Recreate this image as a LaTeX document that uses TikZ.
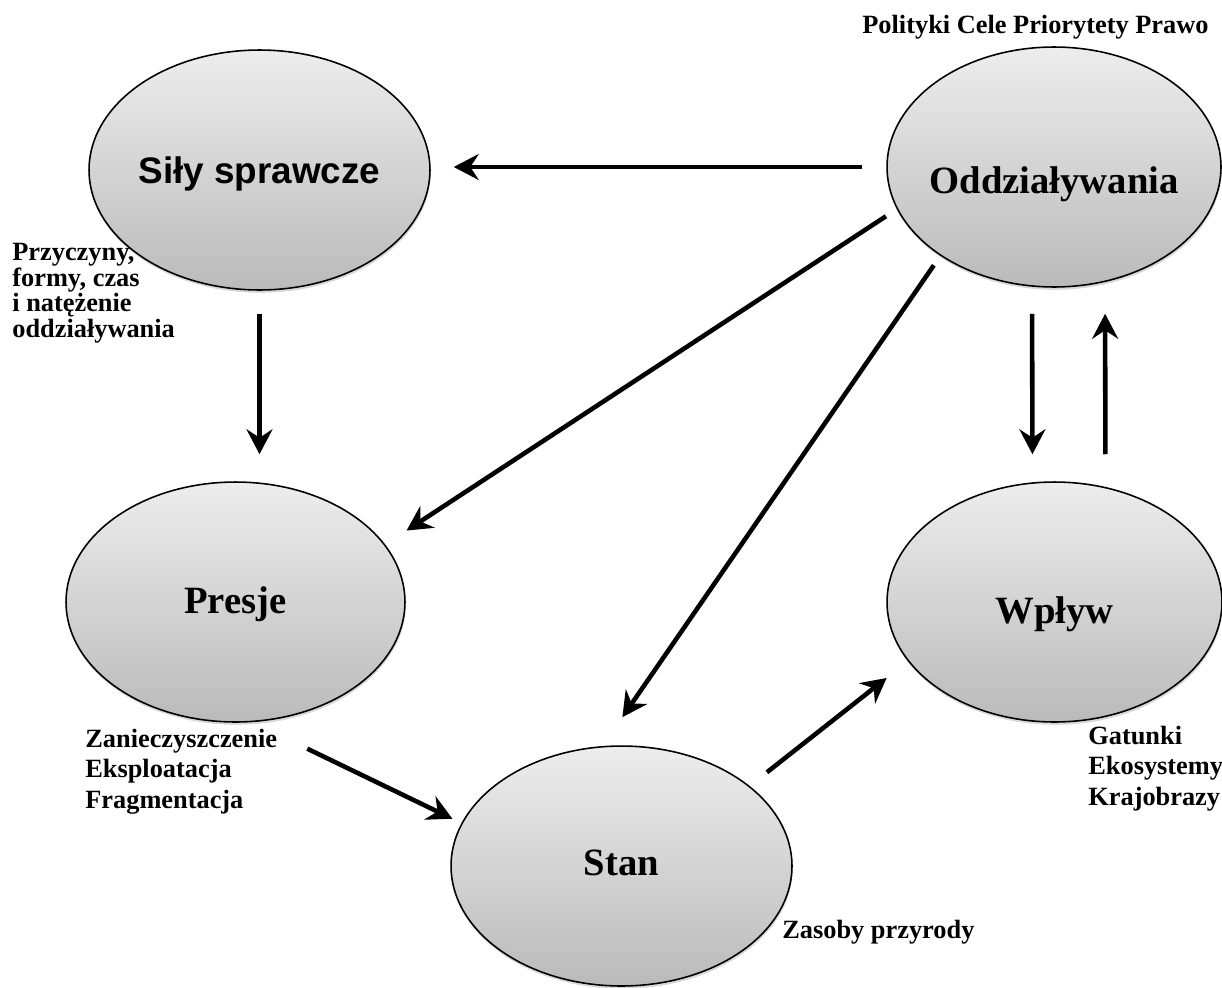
\documentclass[tikz,border=0pt]{standalone}
\usepackage{fontspec}
\setmainfont{Liberation Serif}
\setsansfont{Liberation Sans}
\usetikzlibrary{shapes.geometric, arrows.meta, shadows}

\begin{document}
\begin{tikzpicture}[x=0.02cm, y=-0.02cm,
  oval/.style={ellipse, draw=black, line width=0.9pt, top color=black!7, bottom color=black!27, minimum height=4.8cm, drop shadow={shadow xshift=0.4pt, shadow yshift=-1.6pt, opacity=0.3}},
  bigserif/.style={font=\fontsize{22}{26}\selectfont\bfseries, inner sep=0pt},
  bigsans/.style={font=\fontsize{21}{25}\selectfont\sffamily\bfseries, inner sep=0pt},
  note/.style={font=\fontsize{15}{17.3}\selectfont\bfseries, align=left, inner sep=0pt},
  arr/.style={line width=2.6pt, -{Stealth[length=5mm, width=5.2mm, inset=1.7mm]}}
]
  \useasboundingbox (0,0) rectangle (1222,987);

  \node[oval, minimum width=6.82cm, label={[bigsans, yshift=-0.08cm]center:Siły sprawcze}] (sily) at (259.5,170) {};
  \node[oval, minimum width=6.68cm, label={[bigserif, yshift=-0.34cm]center:Oddziaływania}] (oddz) at (1054,167) {};
  \node[oval, minimum width=6.78cm, label={[bigserif, yshift=-0.04cm]center:Presje}] (presje) at (235.5,602) {};
  \node[oval, minimum width=6.70cm, label={[bigserif, yshift=-0.24cm]center:Wpływ}] (wplyw) at (1054.5,602) {};
  \node[oval, minimum width=6.82cm, label={[bigserif, yshift=0.06cm]center:Stan}] (stan) at (621.5,866) {};

  \node[note, anchor=base west] (cele) at (862,33) {Polityki Cele Priorytety Prawo};
  \node[note, anchor=base west, font=\fontsize{15}{14.5}\selectfont\bfseries] (przyczyny) at (12,337) {Przyczyny,\\formy, czas\\i natężenie\\oddziaływania};
  \node[note, anchor=base west] (zanieczyszczenie) at (85,808) {Zanieczyszczenie\\Eksploatacja\\Fragmentacja};
  \node[note, anchor=base west] (gatunki) at (1088,805) {Gatunki\\Ekosystemy\\Krajobrazy};
  \node[note, anchor=base west] (zasoby) at (782,938) {Zasoby przyrody};

  \draw[arr, shorten <=0.48cm, shorten >=0.46cm] (oddz.west) -- (oddz.west -| sily.east);
  \draw[arr, shorten <=0.46cm, shorten >=0.54cm] (sily.south) -- (sily.south |- presje.north);
  \draw[arr, shorten <=0.26cm, shorten >=0.51cm] (oddz.195) -- (presje.21);
  \draw[arr, shorten <=0.23cm, shorten >=0.70cm] (oddz.218) -- (stan.99);
  \draw[arr, shorten <=0.52cm, shorten >=0.54cm] ([xshift=-0.44cm]oddz.south) -- ([xshift=-0.44cm]wplyw.north);
  \draw[arr, shorten <=0.54cm, shorten >=0.52cm] ([xshift=1.02cm]wplyw.north) -- ([xshift=1.02cm]oddz.south);
  \draw[arr, shorten <=1.22cm, shorten >=0.20cm] (presje.278) -- (stan.165);
  \draw[arr, shorten <=0.44cm, shorten >=0.54cm] (stan.32) -- (wplyw.202);
\end{tikzpicture}
\end{document}
